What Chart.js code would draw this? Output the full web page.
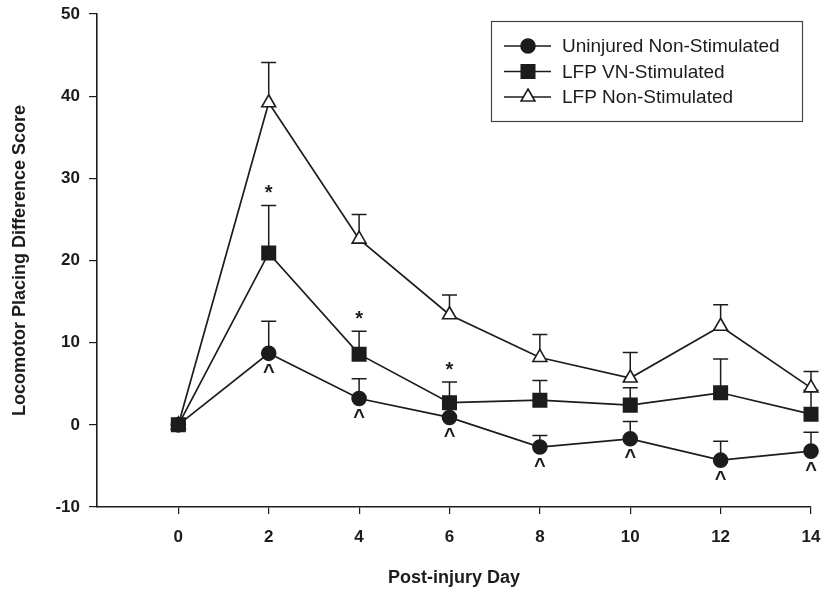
<!DOCTYPE html>
<html>
<head>
<meta charset="utf-8">
<script src="https://cdn.jsdelivr.net/npm/chart.js@4.4.1/dist/chart.umd.min.js"></script>
<style>
  html, body { margin: 0; padding: 0; background: #fff; }
</style>
</head>
<body>
<canvas id="chart" width="824" height="593"></canvas>
<script>
// values (mean and top of the SEM bar)
const days = [0, 2, 4, 6, 8, 10, 12, 14];
const xTicks = [0, 2, 4, 6, 8, 10, 12, 14];
const yTicks = [-10, 0, 10, 20, 30, 40, 50];

const uninjured    = [0, 8.7, 3.2, 0.9, -2.7, -1.7, -4.3, -3.2];
const uninjuredErr = [0, 12.6, 5.6, 2.5, -1.3, 0.4, -2.0, -0.9];
const vnStim       = [0, 20.9, 8.6, 2.7, 3.0, 2.4, 3.9, 1.3];
const vnStimErr    = [0, 26.7, 11.4, 5.2, 5.4, 4.5, 8.0, 4.2];
const nonStim      = [0, 39.2, 22.6, 13.4, 8.2, 5.7, 12.0, 4.5];
const nonStimErr   = [0, 44.1, 25.6, 15.8, 11.0, 8.8, 14.6, 6.5];

const starDays  = [2, 4, 6];                    // '*' above LFP VN-Stimulated
const caretDays = [2, 4, 6, 8, 10, 12, 14];     // '^' below Uninjured

const ink = '#1c1c1c';
const fontFamily = '"Liberation Sans", Arial, Helvetica, sans-serif';

const toPoints = vals => days.map((d, i) => ({ x: d, y: vals[i] }));

const errorBars = {
  id: 'errorBars',
  beforeDatasetsDraw(chart) {
    const { ctx, scales: { x, y } } = chart;
    const tops = [uninjuredErr, vnStimErr, nonStimErr];
    const means = [uninjured, vnStim, nonStim];
    ctx.save();
    ctx.strokeStyle = ink;
    ctx.lineWidth = 1.5;
    tops.forEach((top, k) => {
      days.forEach((d, i) => {
        if (top[i] === means[k][i]) return;
        const px = x.getPixelForValue(d);
        const y0 = y.getPixelForValue(means[k][i]);
        const y1 = y.getPixelForValue(top[i]);
        ctx.beginPath();
        ctx.moveTo(px, y0);
        ctx.lineTo(px, y1);
        ctx.moveTo(px - 7.5, y1);
        ctx.lineTo(px + 7.5, y1);
        ctx.stroke();
      });
    });
    ctx.restore();
  }
};

const marks = {
  id: 'marks',
  afterDatasetsDraw(chart) {
    const { ctx, scales: { x, y } } = chart;
    ctx.save();
    ctx.fillStyle = ink;
    ctx.textAlign = 'center';
    ctx.font = 'bold 20px ' + fontFamily;
    ctx.textBaseline = 'middle';
    starDays.forEach(d => {
      const i = days.indexOf(d);
      ctx.fillText('*', x.getPixelForValue(d), y.getPixelForValue(vnStimErr[i]) - 12);
    });
    ctx.font = 'bold 20px ' + fontFamily;
    ctx.textBaseline = 'top';
    caretDays.forEach(d => {
      const i = days.indexOf(d);
      ctx.fillText('^', x.getPixelForValue(d), y.getPixelForValue(uninjured[i]) + 9);
    });
    ctx.restore();
  }
};

const boxLegend = {
  id: 'boxLegend',
  afterDraw(chart) {
    const ctx = chart.ctx;
    ctx.save();
    ctx.strokeStyle = '#444';
    ctx.lineWidth = 1.2;
    ctx.strokeRect(491.5, 21.5, 311, 100);
    ctx.font = '19px ' + fontFamily;
    ctx.textBaseline = 'middle';
    ctx.textAlign = 'left';
    chart.data.datasets.forEach((ds, i) => {
      const yy = 46 + i * 25.5;
      ctx.strokeStyle = ink;
      ctx.lineWidth = 1.6;
      ctx.beginPath();
      ctx.moveTo(504, yy);
      ctx.lineTo(551, yy);
      ctx.stroke();
      ctx.fillStyle = ds.pointBackgroundColor;
      ctx.strokeStyle = ink;
      Chart.helpers.drawPoint(ctx, {
        pointStyle: ds.pointStyle, rotation: 0,
        radius: ds.pointRadius, borderWidth: 1.6
      }, 528, yy);
      ctx.fillStyle = ink;
      ctx.fillText(ds.label, 562, yy + 1);
    });
    ctx.restore();
  }
};

new Chart(document.getElementById('chart'), {
  type: 'line',
  data: {
    datasets: [
      {
        label: 'Uninjured Non-Stimulated',
        data: toPoints(uninjured),
        pointStyle: 'circle', pointRadius: 7,
        pointBackgroundColor: ink
      },
      {
        label: 'LFP VN-Stimulated',
        data: toPoints(vnStim),
        pointStyle: 'rect', pointRadius: 9.5,
        pointBackgroundColor: ink
      },
      {
        label: 'LFP Non-Stimulated',
        data: toPoints(nonStim),
        pointStyle: 'triangle', pointRadius: 8,
        pointBackgroundColor: '#fff'
      }
    ].map(ds => Object.assign(ds, {
      borderColor: ink,
      borderWidth: 1.7,
      pointBorderColor: ink,
      pointBorderWidth: 1.6,
      pointHoverRadius: ds.pointRadius,
      tension: 0,
      fill: false,
      clip: false
    }))
  },
  options: {
    responsive: false,
    animation: false,
    layout: { padding: { top: 14, right: 13, left: 0, bottom: 0 } },
    plugins: {
      legend: { display: false },
      tooltip: { enabled: false }
    },
    scales: {
      x: {
        type: 'linear',
        min: -1.8,
        max: 14,
        afterBuildTicks: s => { s.ticks = xTicks.map(v => ({ value: v })); },
        afterFit: s => { s.height = 86; s.paddingLeft = 0; s.paddingRight = 0; },
        grid: { drawOnChartArea: false, drawTicks: true, tickLength: 7, color: ink, lineWidth: 1.2 },
        border: { color: ink, width: 1.6 },
        ticks: {
          color: ink, padding: 13, maxRotation: 0, autoSkip: false,
          font: { family: fontFamily, size: 17, weight: 'bold' }
        },
        title: {
          display: true, text: 'Post-injury Day', color: ink,
          font: { family: fontFamily, size: 18, weight: 'bold' },
          padding: 4
        }
      },
      y: {
        min: -10,
        max: 50,
        afterBuildTicks: s => { s.ticks = yTicks.map(v => ({ value: v })); },
        afterFit: s => { s.width = 97; s.paddingTop = 0; s.paddingBottom = 0; },
        grid: { drawOnChartArea: false, drawTicks: true, tickLength: 8, color: ink, lineWidth: 1.2 },
        border: { color: ink, width: 1.6 },
        ticks: {
          color: ink, padding: 9,
          font: { family: fontFamily, size: 17, weight: 'bold' }
        },
        title: {
          display: true, text: 'Locomotor Placing Difference Score', color: ink,
          font: { family: fontFamily, size: 18, weight: 'bold' },
          padding: 9
        }
      }
    }
  },
  plugins: [errorBars, marks, boxLegend]
});
</script>
</body>
</html>
